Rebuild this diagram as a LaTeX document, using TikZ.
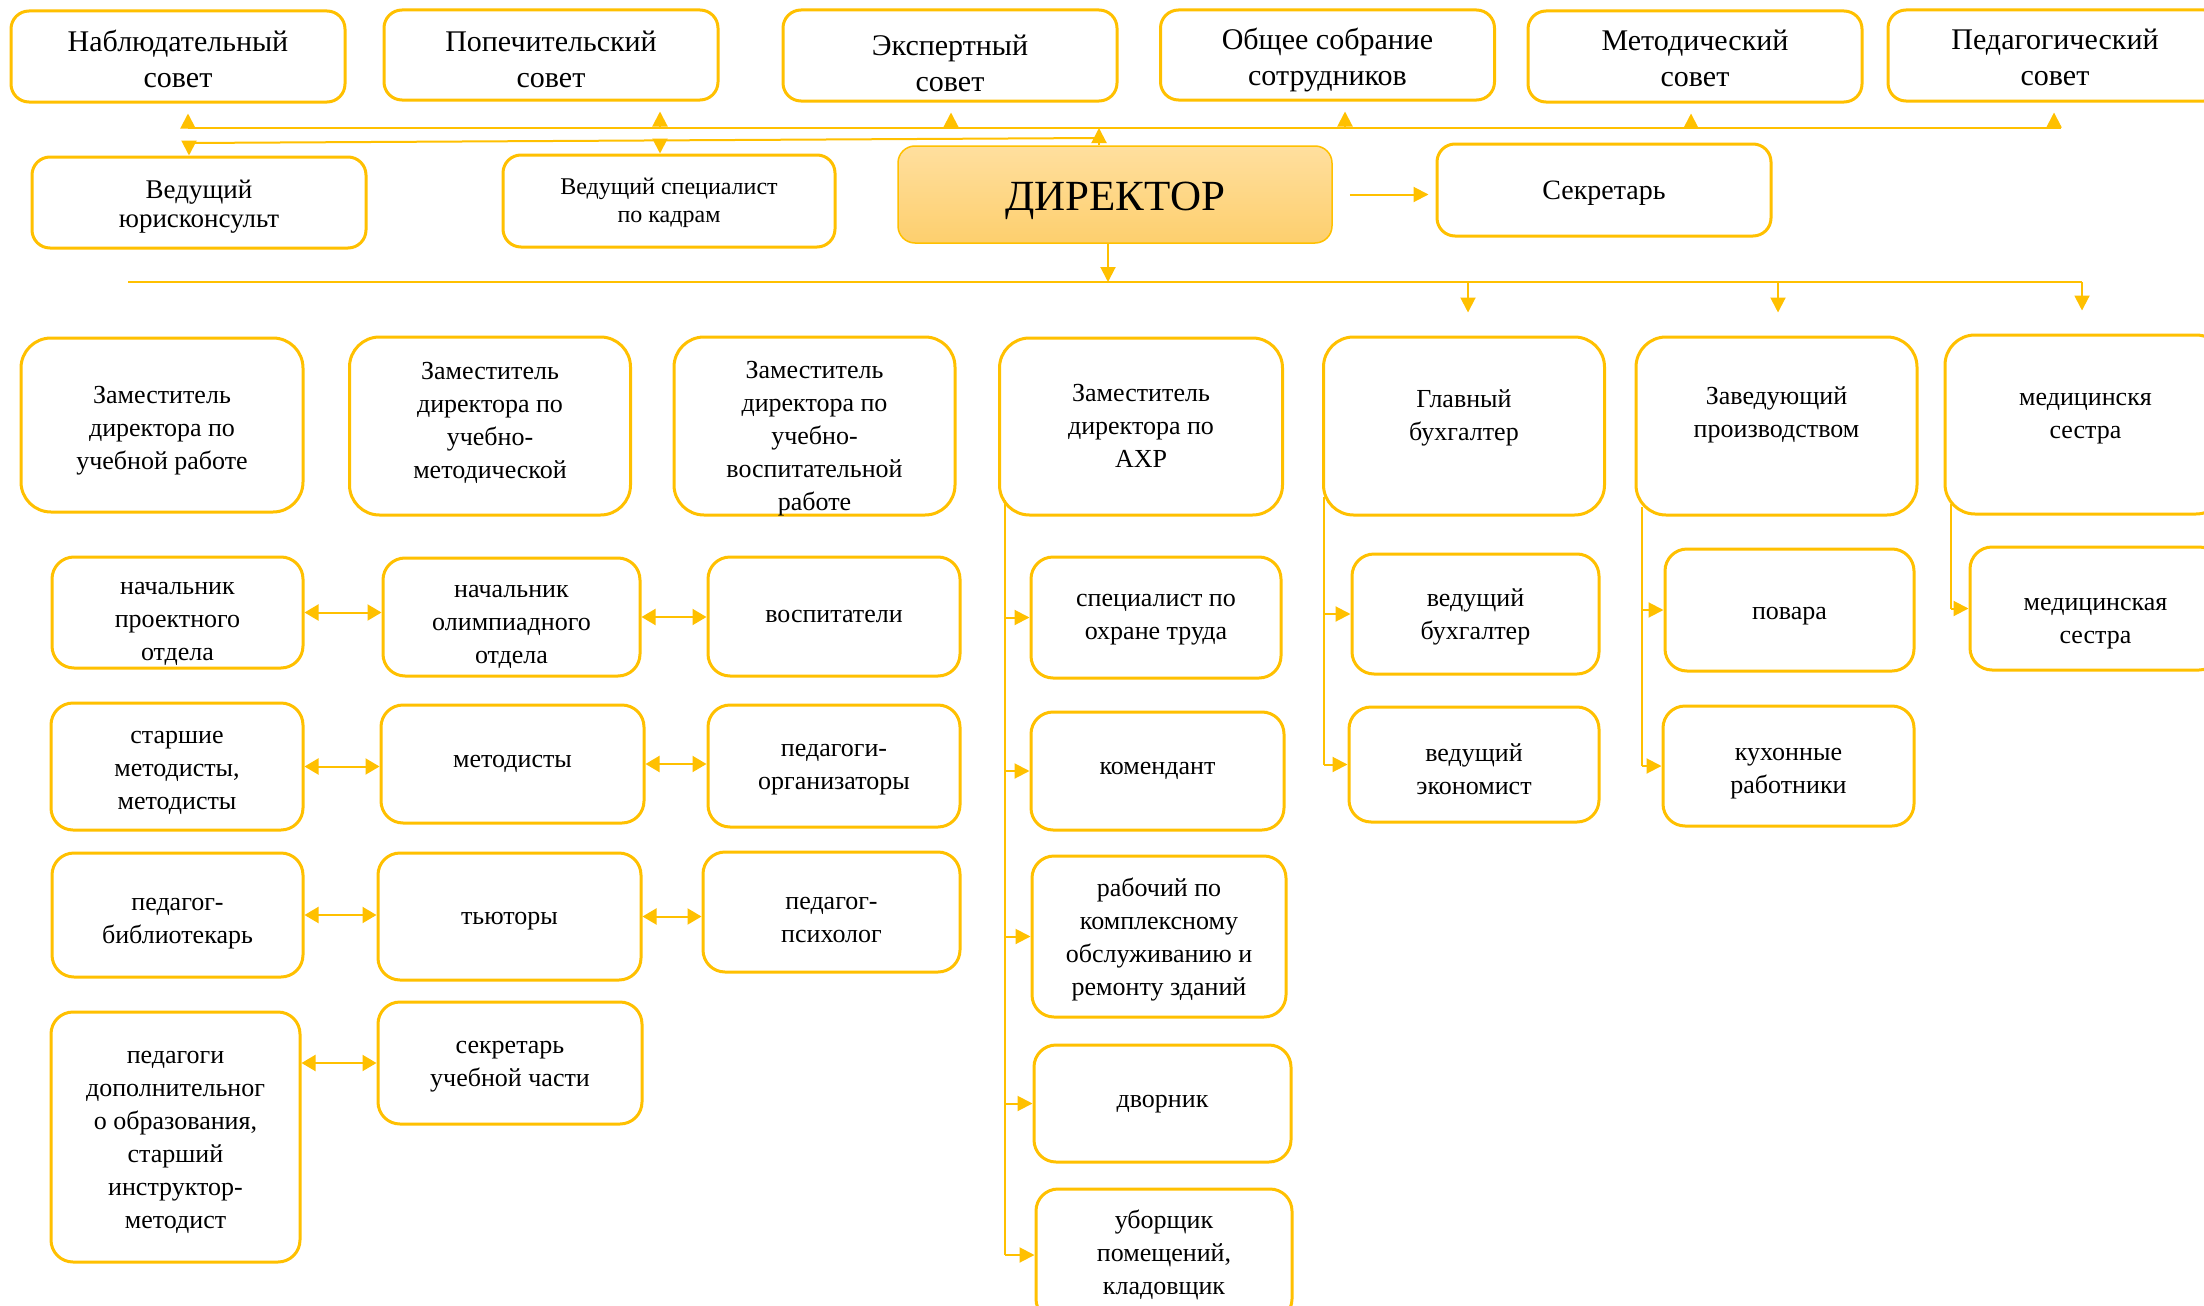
\documentclass[tikz,border=0pt]{standalone}
\usepackage{fontspec}
\setmainfont{Liberation Serif}
\usetikzlibrary{arrows.meta}

\definecolor{gold}{HTML}{FFC000}
\definecolor{dirtop}{HTML}{FFDF9E}
\definecolor{dirbot}{HTML}{FDCF6E}

\tikzset{box/.style={draw=gold, line width=3pt, rounded corners=22pt, fill=white, align=center, inner sep=0pt, font=\fontsize{26}{33}\selectfont}}
\tikzset{council/.style={box, rounded corners=18pt, font=\fontsize{30}{36}\selectfont}}
\tikzset{deputy/.style={box, rounded corners=30pt}}
\tikzset{chief/.style={draw=gold, line width=1.5pt, rounded corners=17pt, top color=dirtop, bottom color=dirbot, inner sep=0pt, font=\fontsize{43}{50}\selectfont}}
\tikzset{tb/.style={text height=#1, text depth=0pt}}
\tikzset{link/.style={draw=gold, line width=2pt}}
\tikzset{trunk/.style={draw=gold, line width=1.2pt}}
\tikzset{arr/.style={link, -{Triangle[length=15pt,width=15pt]}}}
\tikzset{darr/.style={link, {Triangle[length=14pt,width=16pt]}-{Triangle[length=14pt,width=16pt]}}}
\def \cw {334pt}
\def \sw {252pt}

\begin{document}
\begin{tikzpicture}[x=1pt, y=-1pt]

    \clip (0,0) rectangle (2204,1306);
    \fill[white] (0,0) rectangle (2204,1306);

    % councils
    \node[council, tb=63pt, minimum width=\cw, minimum height=91pt] (nabl) at (178,56.5) {Наблюдательный\\совет};
    \node[council, tb=65pt, minimum width=\cw, minimum height=90pt] (popech) at (551,55) {Попечительский\\совет};
    \node[council, tb=72pt, minimum width=\cw, minimum height=91pt] (expert) at (950,55.5) {Экспертный\\совет};
    \node[council, tb=61pt, minimum width=\cw, minimum height=90pt] (sobr) at (1327.5,55) {Общее собрание\\сотрудников};
    \node[council, tb=61pt, minimum width=\cw, minimum height=91pt] (metod) at (1695,56.5) {Методический\\совет};
    \node[council, tb=60pt, minimum width=\cw, minimum height=91pt] (pedsov) at (2055,55.5) {Педагогический\\совет};

    % director and staff
    \node[council, tb=49pt, minimum width=\cw, minimum height=91pt, font=\fontsize{27}{29}\selectfont] (yur) at (199,202.5) {Ведущий\\юрисконсульт};
    \node[council, tb=43pt, minimum width=332pt, minimum height=92pt, font=\fontsize{24}{28}\selectfont] (kadry) at (669,201) {Ведущий специалист\\по кадрам};
    \node[chief, tb=31pt, minimum width=434pt, minimum height=97pt] (dir) at (1115,194.5) {ДИРЕКТОР};
    \node[council, tb=18pt, minimum width=\cw, minimum height=92pt, font=\fontsize{28}{32}\selectfont] (sekr) at (1604,190) {Секретарь};

    % deputies
    \node[deputy, tb=88pt, minimum width=282pt, minimum height=174pt] (zUch) at (162,425) {Заместитель\\директора по\\учебной работе};
    \node[deputy, tb=104pt, minimum width=281pt, minimum height=178pt] (zMet) at (490,426) {Заместитель\\директора по\\учебно-\\методической};
    \node[deputy, tb=168pt, minimum width=281pt, minimum height=178pt] (zVos) at (814.5,426) {Заместитель\\директора по\\учебно-\\воспитательной\\работе};
    \node[deputy, tb=81pt, minimum width=283pt, minimum height=177pt] (zAXR) at (1141,426.5) {Заместитель\\директора по\\АХР};
    \node[deputy, tb=28pt, minimum width=281pt, minimum height=178pt] (glBuh) at (1464,426) {Главный\\бухгалтер};
    \node[deputy, tb=22pt, minimum width=281pt, minimum height=178pt] (zavPr) at (1776.5,426) {Заведующий\\производством};
    \node[deputy, tb=27pt, minimum width=281pt, minimum height=179pt] (medS) at (2085.5,424.5) {медицинскя\\сестра};

    % staff, row by row
    \node[box, tb=95pt, minimum width=251pt, minimum height=111pt] (nProekt) at (177.5,612.5) {начальник\\проектного\\отдела};
    \node[box, tb=92pt, minimum width=257pt, minimum height=118pt] (nOlimp) at (511.5,617) {начальник\\олимпиадного\\отдела};
    \node[box, minimum width=\sw, minimum height=119pt] (vosp) at (834,616.5) {воспитатели};
    \node[box, tb=44pt, minimum width=250pt, minimum height=121pt] (ohrana) at (1156,617.5) {специалист по\\охране труда};
    \node[box, tb=50pt, minimum width=247pt, minimum height=120pt] (vBuh) at (1475.5,614) {ведущий\\бухгалтер};
    \node[box, tb=19pt, minimum width=249pt, minimum height=122pt] (povara) at (1789.5,610) {повара};
    \node[box, tb=69pt, minimum width=251pt, minimum height=123pt] (medS2) at (2095.5,608.5) {медицинская\\сестра};

    \node[box, tb=85pt, minimum width=\sw, minimum height=127pt] (stMet) at (177,766.5) {старшие\\методисты,\\методисты};
    \node[box, minimum width=263pt, minimum height=118pt] (metodisty) at (512.5,764) {методисты};
    \node[box, tb=46pt, minimum width=\sw, minimum height=122pt] (pedOrg) at (834,766) {педагоги-\\организаторы};
    \node[box, minimum width=253pt, minimum height=118pt] (koment) at (1157.5,771) {комендант};
    \node[box, tb=59pt, minimum width=250pt, minimum height=115pt] (vEkon) at (1474,764.5) {ведущий\\экономист};
    \node[box, tb=54pt, minimum width=251pt, minimum height=120pt] (kuhon) at (1788.5,766) {кухонные\\работники};

    \node[box, tb=57pt, minimum width=251pt, minimum height=124pt] (pedBibl) at (177.5,915) {педагог-\\библиотекарь};
    \node[box, tb=15pt, minimum width=263pt, minimum height=127pt] (tyutory) at (509.5,916.5) {тьюторы};
    \node[box, tb=60pt, minimum width=257pt, minimum height=120pt] (pedPsih) at (831.5,912) {педагог-\\психолог};
    \node[box, tb=117pt, minimum width=254pt, minimum height=161pt] (rabochiy) at (1159,936.5) {рабочий по\\комплексному\\обслуживанию и\\ремонту зданий};
    \node[box, tb=7pt, minimum width=257pt, minimum height=117pt] (dvornik) at (1162.5,1103.5) {дворник};

    \node[box, tb=182pt, minimum width=249pt, minimum height=250pt] (pedDop) at (175.5,1137) {педагоги\\дополнительног\\о образования,\\старший\\инструктор-\\методист};
    \node[box, tb=46pt, minimum width=264pt, minimum height=122pt] (sekrUch) at (510,1063) {секретарь\\учебной части};
    \node[box, tb=78pt, minimum width=256pt, minimum height=132pt] (uborsh) at (1164,1255) {уборщик\\помещений,\\кладовщик};

    % upper buses
    \coordinate (busL) at (188,128);
    \coordinate (busR) at (2061,128);
    \draw[link] (busL) -- (busR);
    \foreach \x/\n in {188/nabl, 660/popech, 951/expert, 1345/sobr, 1691/metod, 2054/pedsov} {
    \coordinate (b\n) at (\x,128);
    \draw[arr, shorten >=10pt] (b\n) -- (b\n |- \n.south);
    }
    \coordinate (dirUp) at (1099,128);
    \draw[arr] (dirUp |- dir.north) -- (dirUp);

    \coordinate (staffR) at (1099,138);
    \coordinate (staffL) at (189,143);
    \coordinate (staffK) at (660,140.4);
    \draw[link] (staffR) -- (staffL);
    \draw[arr] (staffL) -- (staffL |- yur.north);
    \draw[arr] (staffK) -- (staffK |- kadry.north);

    \draw[arr, shorten <=17pt, shorten >=7pt] (dir.east) -- (dir.east -| sekr.west);

    % deputies bus
    \coordinate (depBus) at (1108,282);
    \coordinate (depL) at (128,282);
    \coordinate (depR) at (2082,282);
    \draw[link] (depL) -- (depR);
    \draw[arr] (depBus |- dir.south) -- (depBus);
    \foreach \x/\n in {1468/glBuh, 1778/zavPr, 2082/medS} {
    \coordinate (d\n) at (\x,282);
    \draw[arr, shorten >=23pt] (d\n) -- (d\n |- \n.north);
    }

    % branches
    \coordinate (axrT) at (1005,500);
    \coordinate (buhT) at (1324,497);
    \coordinate (zavT) at (1642,507);
    \coordinate (medT) at (1951,504);
    \draw[trunk] (axrT) -- (axrT |- uborsh.west);
    \draw[trunk] (buhT) -- (buhT |- vEkon.west);
    \draw[trunk] (zavT) -- (zavT |- kuhon.west);
    \draw[trunk] (medT) -- (medT |- medS2.west);
    \foreach \n in {ohrana, koment, rabochiy, dvornik, uborsh}
    \draw[arr] (axrT |- \n.west) -- (\n.west);
    \foreach \n in {vBuh, vEkon}
    \draw[arr] (buhT |- \n.west) -- (\n.west);
    \foreach \n in {povara, kuhon}
    \draw[arr] (zavT |- \n.west) -- (\n.west);
    \draw[arr] (medT |- medS2.west) -- (medS2.west);

    % two-way links
    \draw[darr] (nProekt.east) -- (nProekt.east -| nOlimp.west);
    \draw[darr] (nOlimp.east) -- (nOlimp.east -| vosp.west);
    \draw[darr] (stMet.east) -- (stMet.east -| metodisty.west);
    \draw[darr] (metodisty.east) -- (metodisty.east -| pedOrg.west);
    \draw[darr] (pedBibl.east) -- (pedBibl.east -| tyutory.west);
    \draw[darr] (tyutory.east) -- (tyutory.east -| pedPsih.west);
    \draw[darr] (sekrUch.west -| pedDop.east) -- (sekrUch.west);

\end{tikzpicture}
\end{document}
